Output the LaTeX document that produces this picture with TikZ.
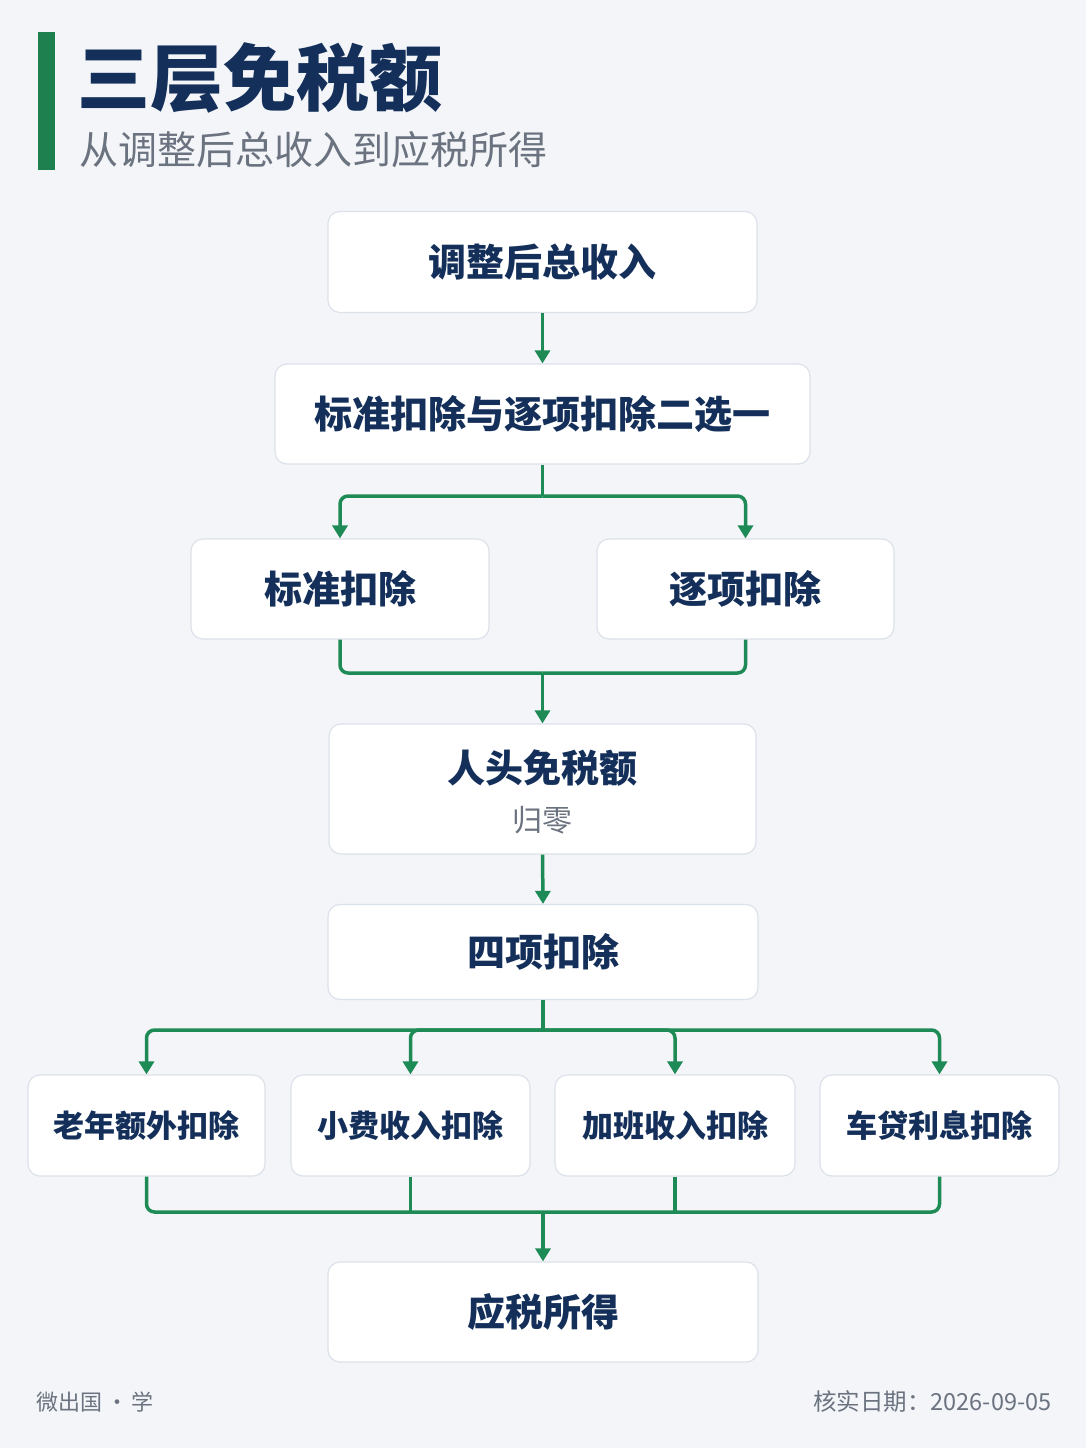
\documentclass[tikz,border=0pt]{standalone}
\usepackage{fontspec}
\setmainfont{Noto Sans CJK SC}
\usetikzlibrary{arrows.meta}
\definecolor{bg}{HTML}{F3F5F8}
\definecolor{navy}{HTML}{14305A}
\definecolor{grn}{HTML}{1E8A55}
\definecolor{bar}{HTML}{1E7F4F}
\definecolor{bd}{HTML}{DCE2EA}
\definecolor{gr}{HTML}{6B7380}
\begin{document}
\begin{tikzpicture}[x=1pt,y=-1pt,
 box/.style={draw=bd,line width=1.2pt,fill=white,rounded corners=12pt,align=center,text=navy,font=\fontsize{38}{44}\selectfont\bfseries},
 sbox/.style={box,font=\fontsize{31}{36}\selectfont\bfseries},
 ln/.style={draw=grn,line width=3.5pt,rounded corners=8pt},
 ar/.style={ln,-{Triangle[length=13pt,width=15pt]}}]
\useasboundingbox[fill=bg] (0,0) rectangle (1086,1448);
\fill[bar] (38,32) rectangle (55,170);
\node[anchor=west,text=navy,font=\fontsize{73}{78}\selectfont\bfseries] (title) at (74,78) {三层免税额};
\node[anchor=west,text=gr,font=\fontsize{39}{44}\selectfont] (sub) at (76,150) {从调整后总收入到应税所得};
\node[box,minimum width=429pt,minimum height=101pt] (b1) at (542.5,262) {调整后总收入};
\node[box,minimum width=535pt,minimum height=100pt] (b2) at (542.5,414) {标准扣除与逐项扣除二选一};
\node[box,minimum width=298pt,minimum height=100pt] (b3a) at (340,589) {标准扣除};
\node[box,minimum width=297pt,minimum height=100pt] (b3b) at (745.5,589) {逐项扣除};
\node[box,minimum width=427pt,minimum height=130pt] (b4) at (542.5,789) {};
\node[text=navy,font=\fontsize{38}{44}\selectfont\bfseries] (b4t) at (542.5,768) {人头免税额};
\node[text=gr,font=\fontsize{30}{34}\selectfont] (b4s) at (542.5,820) {归零};
\node[box,minimum width=430pt,minimum height=95pt] (b5) at (543,952) {四项扣除};
\node[sbox,minimum width=237pt,minimum height=101pt] (c1) at (146.5,1125.5) {老年额外扣除};
\node[sbox,minimum width=239pt,minimum height=101pt] (c2) at (410.5,1125.5) {小费收入扣除};
\node[sbox,minimum width=240pt,minimum height=101pt] (c3) at (675,1125.5) {加班收入扣除};
\node[sbox,minimum width=239pt,minimum height=101pt] (c4) at (939.5,1125.5) {车贷利息扣除};
\node[box,minimum width=430pt,minimum height=100pt] (b6) at (543,1312) {应税所得};
\node[anchor=west,text=gr,font=\fontsize{22}{26}\selectfont] (f1) at (33,1402) {微出国\,·\,学};
\node[anchor=east,text=gr,font=\fontsize{23.5}{27}\selectfont] (f2) at (1055,1402) {核实日期：2026-09-05};
\coordinate (j1) at (542.5,496);
\coordinate (j2) at (542.5,673);
\coordinate (j3) at (543,1030);
\coordinate (j4) at (543,1212);
\draw[ar] (b1.south) -- (b2.north);
\draw[ln] (b2.south) -- (j1);
\draw[ar] (j1) -| (b3a.north);
\draw[ar] (j1) -| (b3b.north);
\draw[ln] (b3a.south) |- (j2);
\draw[ln] (b3b.south) |- (j2);
\draw[ar] (j2) -- (b4.north);
\draw[ar] (b4.south) -- (b5.north);
\draw[ln] (b5.south) -- (j3);
\draw[ar] (j3) -| (c1.north);
\draw[ar] (j3) -| (c2.north);
\draw[ar] (j3) -| (c3.north);
\draw[ar] (j3) -| (c4.north);
\draw[ln] (c1.south) |- (j4);
\draw[ln] (c2.south) -- (c2.south |- j4);
\draw[ln] (c3.south) -- (c3.south |- j4);
\draw[ln] (c4.south) |- (j4);
\draw[ar] (j4) -- (b6.north);
\end{tikzpicture}
\end{document}
